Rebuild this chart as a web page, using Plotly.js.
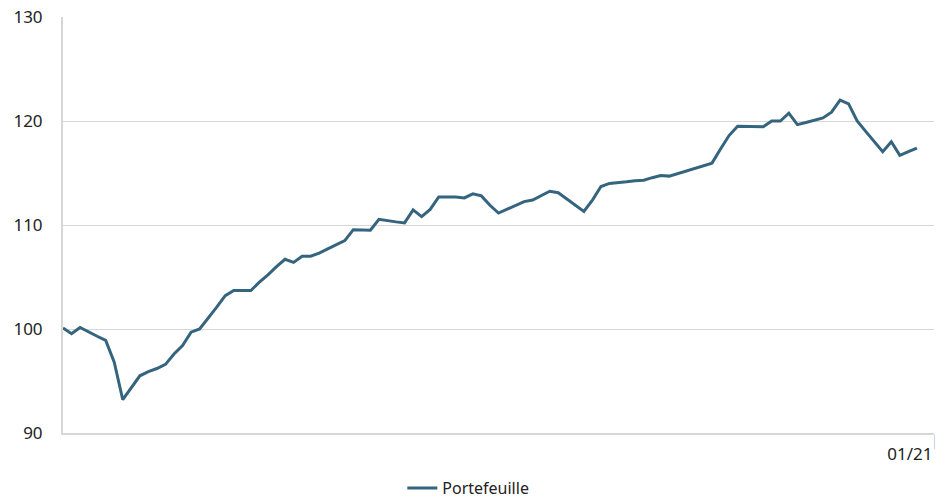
<!DOCTYPE html>
<html>
<head>
<meta charset="utf-8">
<script src="https://cdn.plot.ly/plotly-3.0.1.min.js"></script>
<style>html,body{margin:0;padding:0;background:#fff;}#chart{width:948px;height:498px;}</style>
</head>
<body>
<div id="chart"></div>
<script>
// Portfolio index values (weekly points)
const portefeuille = [
  100.1, 99.55, 100.15, 99.7, 99.3, 98.9, 96.8, 93.2, 94.3, 95.5,
  95.9, 96.2, 96.6, 97.6, 98.4, 99.7, 100.0, 101.0, 102.1, 103.2,
  103.7, 103.7, 103.7, 104.5, 105.2, 106.0, 106.7, 106.4, 107.0, 107.0,
  107.3, 107.7, 108.1, 108.5, 109.55, 109.5, 109.5, 110.55, 110.4, 110.3,
  110.2, 111.45, 110.8, 111.5, 112.7, 112.7, 112.7, 112.6, 113.0, 112.8,
  111.9, 111.15, 111.5, 111.9, 112.25, 112.4, 112.8, 113.25, 113.1, 112.5,
  111.9, 111.3, 112.4, 113.7, 114.0, 114.05, 114.15, 114.25, 114.3, 114.55,
  114.75, 114.7, 114.95, 115.2, 115.45, 115.7, 115.95, 117.3, 118.6, 119.5,
  119.5, 119.5, 119.45, 120.0, 120.0, 120.75, 119.65, 119.85, 120.1, 120.3,
  120.85, 122.0, 121.65, 120.0, 119.0, 118.0, 117.05, 118.0, 116.7, 117.05,
  117.4
];
const periods = portefeuille.map((_, i) => i);
const tickPos = [102];
const tickText = ['01/21'];
const yTicks = [90, 100, 110, 120, 130];
const seriesName = 'Portefeuille';

const trace = {
  x: periods,
  y: portefeuille,
  type: 'scatter',
  mode: 'lines',
  name: seriesName,
  line: {color: '#35657e', width: 3},
  hoverinfo: 'skip'
};

const layout = {
  width: 948,
  height: 498,
  margin: {l: 63, r: 14, t: 17, b: 65, autoexpand: false},
  paper_bgcolor: '#ffffff',
  plot_bgcolor: '#ffffff',
  font: {family: 'Noto Sans, sans-serif', size: 17, color: '#222222'},
  showlegend: true,
  legend: {
    orientation: 'h',
    xref: 'container', yref: 'container',
    x: 0.494, xanchor: 'center',
    y: 0.02, yanchor: 'middle',
    font: {size: 16, color: '#222222'},
    bgcolor: 'rgba(0,0,0,0)'
  },
  xaxis: {
    range: [0, 102],
    tickmode: 'array',
    tickvals: tickPos,
    ticktext: tickText,
    ticks: 'outside',
    ticklen: 14,
    tickwidth: 1,
    tickcolor: '#c8d5e8',
    ticklabelposition: 'outside left',
    ticklabelstandoff: 5,
    showgrid: false,
    zeroline: false,
    showline: true,
    linecolor: '#d6d6d6',
    linewidth: 2,
    tickfont: {size: 17, color: '#222222'},
    automargin: false,
    fixedrange: true
  },
  yaxis: {
    range: [90, 130],
    tickmode: 'array',
    tickvals: yTicks,
    ticktext: yTicks.map(String),
    showgrid: true,
    gridcolor: '#d6d6d6',
    gridwidth: 1,
    zeroline: false,
    showline: true,
    linecolor: '#d6d6d6',
    linewidth: 2,
    ticks: '',
    ticklabelstandoff: 15,
    tickfont: {size: 17, color: '#222222'},
    automargin: false,
    fixedrange: true
  }
};

Plotly.newPlot('chart', [trace], layout, {displayModeBar: false, staticPlot: true});
</script>
</body>
</html>
